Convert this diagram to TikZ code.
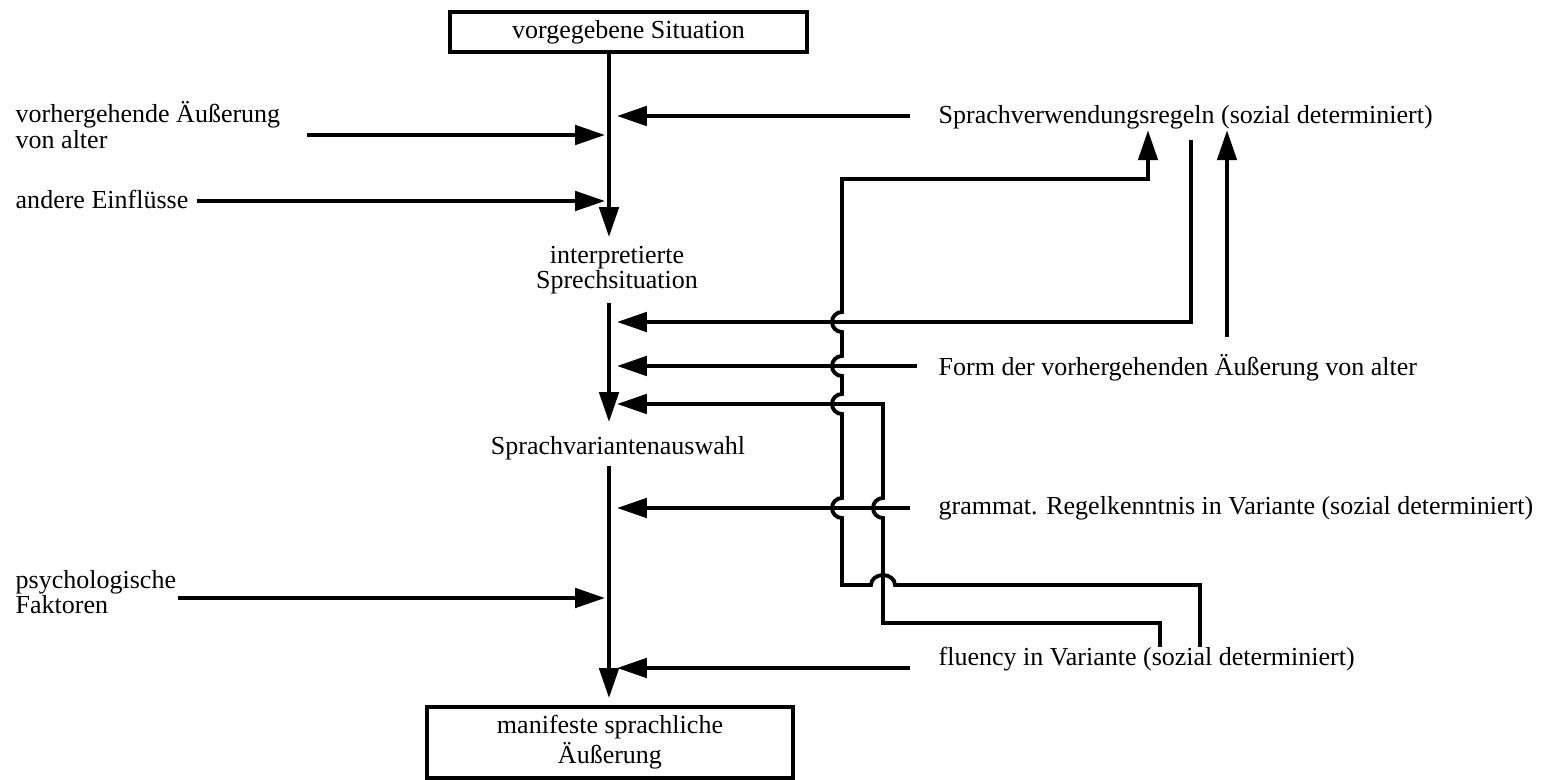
\documentclass[tikz,border=0pt]{standalone}
\usepackage{fontspec}
\setmainfont{Liberation Serif}
\usetikzlibrary{arrows.meta}

\tikzset{
  kasten/.style={draw, line width=0.9pt, inner sep=0pt, align=center},
  txt/.style={inner sep=0pt},
  pfeil/.style={-{Triangle[length=8.5pt,width=5.5pt]}, line width=1.1pt},
}

\begin{document}
\begin{tikzpicture}[font=\fontsize{7.4}{7.2}\selectfont]
    \useasboundingbox (0,0) rectangle (15.52,-7.80);
    % Kaesten und Texte der Mittelachse
    \node[kasten, minimum width=3.57cm, minimum height=0.40cm] (sit) at (6.285,-0.32) {vorgegebene Situation};
    \node[txt, align=center] (interp) at (6.17,-2.70) {interpretierte\\Sprechsituation};
    \node[txt, anchor=base] (auswahl) at (6.18,-4.55) {Sprachvariantenauswahl};
    \node[kasten, minimum width=3.66cm, minimum height=0.71cm] (manif) at (6.10,-7.425) {manifeste sprachliche\\Äußerung};
    % Texte links
    \node[txt, align=left, anchor=west] (vor) at (0.15,-1.25) {vorhergehende Äußerung\\von alter};
    \node[txt, anchor=base west] (andere) at (0.15,-2.09) {andere Einflüsse};
    \node[txt, align=left, anchor=west] (psych) at (0.15,-5.92) {psychologische\\Faktoren};
    % Texte rechts
    \node[txt, anchor=base west] (regeln) at (9.38,-1.24) {Sprachverwendungsregeln (sozial determiniert)};
    \node[txt, anchor=base west] (form) at (9.38,-3.76) {Form der vorhergehenden Äußerung von alter};
    \node[txt, anchor=base west] (gramm) at (9.38,-5.15) {grammat. Regelkenntnis in Variante (sozial determiniert)};
    \node[txt, anchor=base west] (fluency) at (9.38,-6.66) {fluency in Variante (sozial determiniert)};

    % Achse
    \coordinate (h1) at (6.09,-2.37);
    \coordinate (h2) at (6.09,-3.03);
    \coordinate (h3) at (6.09,-4.22);
    \coordinate (h4) at (6.09,-4.66);
    \coordinate (h5) at (6.09,-6.98);
    \coordinate (L) at (6.05,0);
    \coordinate (R) at (6.17,0);
    \draw[pfeil] (sit.south -| h1) -- (h1);
    \draw[pfeil] (h2) -- (h3);
    \draw[pfeil] (h4) -- (h5);

    % Pfeile von links
    \coordinate (vorA) at (3.07,-1.35);
    \coordinate (andA) at (1.97,-2.01);
    \coordinate (psyA) at (1.78,-5.98);
    \draw[pfeil] (vorA) -- (vorA -| L);
    \draw[pfeil] (andA) -- (andA -| L);
    \draw[pfeil] (psyA) -- (psyA -| L);

    % Pfeile von rechts
    \coordinate (regA) at (9.10,-1.16);
    \coordinate (formA) at (9.17,-3.66);
    \coordinate (grA) at (9.10,-5.08);
    \coordinate (flA) at (9.10,-6.68);
    \draw[pfeil] (regA) -- (regA -| R);
    \draw[pfeil] (formA) -- (formA -| R);
    \draw[pfeil] (grA) -- (grA -| R);
    \draw[pfeil] (flA) -- (flA -| R);

    % Rueckkopplungen
    \coordinate (aA) at (11.91,-1.40);
    \coordinate (bA) at (12.27,-3.37);
    \draw[pfeil] (aA) |- (R |- 0,-3.22);
    \draw[pfeil] (bA) -- (bA |- regeln.south);
    \draw[pfeil] (12.00,0 |- fluency.north) -- (12.00,-5.85) -- (8.95,-5.85)
      arc[start angle=0, end angle=180, x radius=0.12, y radius=0.1] -- (8.42,-5.85) -- (8.42,-5.18)
      arc[start angle=270, end angle=90, radius=0.1] -- (8.42,-4.14)
      arc[start angle=270, end angle=90, radius=0.1] -- (8.42,-3.76)
      arc[start angle=270, end angle=90, radius=0.1] -- (8.42,-3.32)
      arc[start angle=270, end angle=90, radius=0.1] -- (8.42,-1.79) -- (11.48,-1.79) -- (11.48,0 |- regeln.south);
    \draw[pfeil] (11.60,0 |- fluency.north) -- (11.60,-6.23) -- (8.83,-6.23) -- (8.83,-5.18)
      arc[start angle=270, end angle=90, radius=0.1] -- (8.83,-4.04) -- (R |- 0,-4.04);
  \end{tikzpicture}
\end{document}
